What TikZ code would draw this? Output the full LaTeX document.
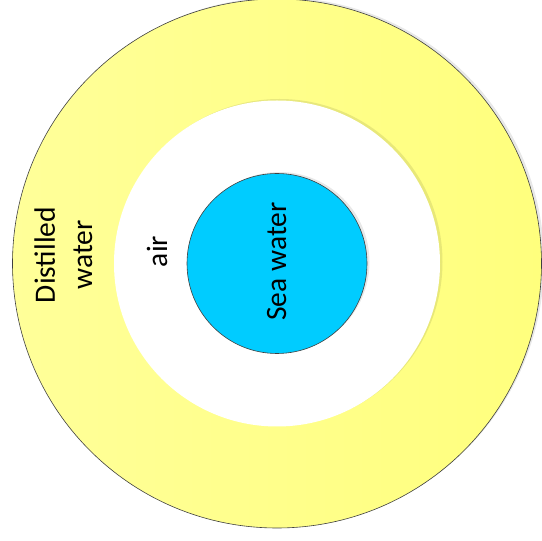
\documentclass[tikz,border=0pt]{standalone}
\usepackage{fontspec}
\setmainfont{Carlito}
\usepackage{tikz}
\usetikzlibrary{calc}

\definecolor{ylwL}{RGB}{255,255,153}
\definecolor{ylwR}{RGB}{255,255,125}
\definecolor{seablue}{RGB}{0,204,255}

\begin{document}
\begin{tikzpicture}[x=1pt,y=1pt,
  ringline/.style={draw=black!75,line width=0.6pt},
  shadowdisc/.style={fill=black,opacity=0.09},
  lbl/.style={rotate=90,anchor=base,inner sep=0pt,font=\fontsize{29.5}{35}\selectfont}]
\useasboundingbox (0,0) rectangle (542,541);
\coordinate (c) at (277,277.5);
% distilled water ring
\fill[shadowdisc] ($(c)+(2.5,1.5)$) circle (264.5);
\shade[left color=ylwL,middle color=ylwL,right color=ylwR] (c) circle (264.5);
\draw[ringline] (c) circle (264.5);
% air gap
\fill[shadowdisc] ($(c)+(2.5,1.5)$) circle (163);
\fill[white] (c) circle (163);
% sea water
\fill[shadowdisc] ($(c)+(2.5,1.5)$) circle (90);
\filldraw[fill=seablue,ringline] (c) circle (90);
% labels
\node[lbl] (dist) at (55,286) {Distilled};
\node[lbl] (wat) at (92,286) {water};
\node[lbl] (air) at (167,289.5) {air};
\node[lbl] (sea) at (286,279.5) {Sea water};
\end{tikzpicture}
\end{document}
